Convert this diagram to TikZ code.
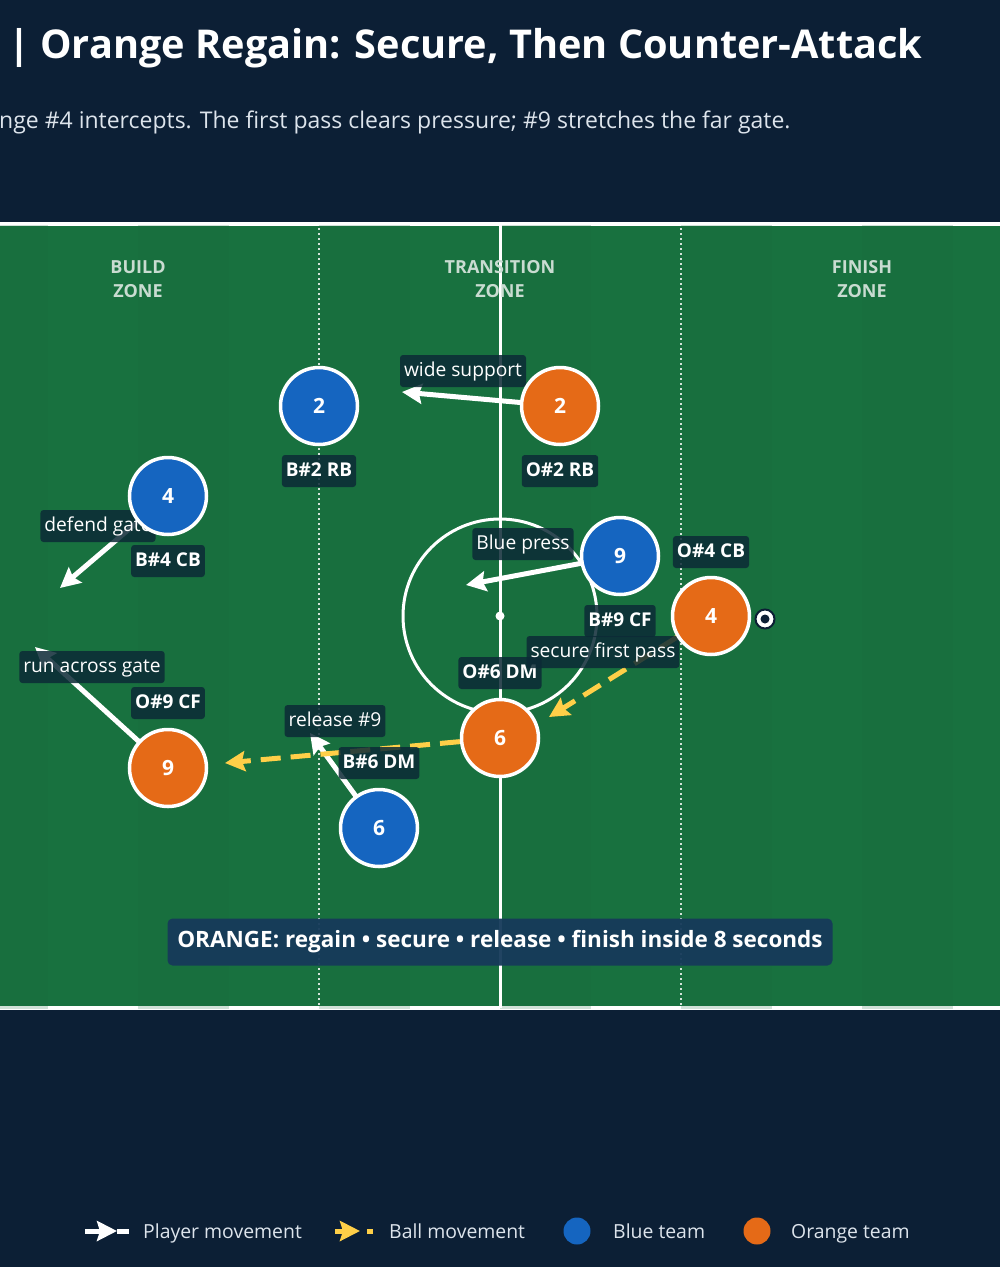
\documentclass[tikz,border=0pt]{standalone}
\usepackage{fontspec}
\setmainfont{Open Sans}
\usepackage{tikz}
\usetikzlibrary{arrows.meta}

\definecolor{night}{HTML}{0C1F35}
\definecolor{pitch}{HTML}{18713F}
\definecolor{stripe}{HTML}{1A6B3E}
\definecolor{blueteam}{HTML}{1565C0}
\definecolor{orangeteam}{HTML}{E56A17}
\definecolor{tagbg}{HTML}{0C2A36}
\definecolor{ballyellow}{HTML}{FFCF48}
\definecolor{zonegray}{HTML}{C9DCD1}
\definecolor{bannerbg}{HTML}{163A5A}
\definecolor{legendtext}{HTML}{DDE4EC}

\pgfdeclarelayer{pitch}
\pgfdeclarelayer{moves}
\pgfdeclarelayer{tags}
\pgfsetlayers{pitch,moves,tags,main}

\begin{document}
\begin{tikzpicture}[x=1pt,y=-1pt]

	\tikzstyle player=[circle, draw=white, line width=3.5pt, minimum size=77pt, inner sep=0pt, text=white, font=\fontsize{21}{24}\selectfont\bfseries];
	\tikzstyle blue player=[player, fill=blueteam];
	\tikzstyle orange player=[player, fill=orangeteam];
	\tikzstyle name tag=[fill=tagbg, fill opacity=0.85, text opacity=1, rounded corners=3pt, text=white, inner xsep=4pt, inner ysep=7pt, text height=14pt, text depth=4pt, font=\fontsize{19}{22}\selectfont\bfseries];
	\tikzstyle move tag=[name tag, font=\fontsize{19.2}{22}\selectfont];
	\tikzstyle zone tag=[align=center, text=zonegray, font=\fontsize{18}{24}\selectfont\bfseries];
	\tikzstyle player move=[draw=white, line width=5pt, -{Stealth[length=20pt, width=20pt, inset=3pt]}];
	\tikzstyle ball move=[draw=ballyellow, line width=5pt, dash pattern=on 20pt off 10pt, -{Stealth[length=20pt, width=20pt, inset=3pt]}];
	\tikzstyle legend text=[anchor=base west, inner sep=0pt, text=legendtext, font=\fontsize{19.4}{22}\selectfont];

	\useasboundingbox (0,0) rectangle (1000,1267);

	\begin{pgfonlayer}{pitch}
		\fill[night] (0,0) rectangle (1000,1267);
		\fill[pitch] (0,226) rectangle (1000,1006);
		\draw[white, line width=4pt] (0,224) -- (1000,224);
		\draw[white, line width=4pt] (0,1008) -- (1000,1008);
		\foreach \x in {-43,138,319,500,681,862}
			\fill[stripe, opacity=0.2] (\x,225) rectangle +(90.5,784);
		\foreach \x in {319,681}
			\draw[zonegray!80, line width=1.3pt, dash pattern=on 2pt off 3pt] (\x,228) -- (\x,1006);
		\draw[white, line width=3pt] (500,224) -- (500,1008);
		\draw[white, line width=3pt] (500,616) circle[radius=97];
		\fill[white] (500,616) circle[radius=4.5];
	\end{pgfonlayer}

	% headings
	\node[anchor=base west, inner sep=0pt, text=white, font=\fontsize{39.7}{44}\selectfont\bfseries] (title) at (8,58) {| Orange Regain: Secure, Then Counter-Attack};
	\node[anchor=base west, inner sep=0pt, text=legendtext, font=\fontsize{23}{26}\selectfont] (subtitle) at (-1,128) {nge \#4 intercepts. The first pass clears pressure; \#9 stretches the far gate.};

	\foreach \x/\zone in {138/BUILD,500/TRANSITION,862/FINISH}
		\node[zone tag] (zone \zone) at (\x,279) {\zone\\ZONE};

	% players
	\foreach \name/\x/\y/\num in {b2/319/406/2,b4/168/496/4,b9/620/556/9,b6/379/828/6}
		\node[blue player] (\name) at (\x,\y) {\num};
	\foreach \name/\x/\y/\num in {o2/560/406/2,o4/711/616/4,o6/500/738/6,o9/168/768/9}
		\node[orange player] (\name) at (\x,\y) {\num};

	\node[circle, fill=white, draw=night, line width=2pt, minimum size=19pt, inner sep=0pt] (ball) at (765,619) {};
	\fill[night] (ball.center) circle[radius=4.5];

	% labels
	\begin{pgfonlayer}{tags}
		\foreach \x/\y/\tag in {319/471/B\#2 RB,560/471/O\#2 RB,168/561/B\#4 CB,620/621/B\#9 CF,711/552/O\#4 CB,500/673/O\#6 DM,168/703/O\#9 CF,379/763/B\#6 DM}
			\node[name tag] at (\x,\y) {\tag};
		\foreach \x/\y/\tag in {463/371/wide support,98/526/defend gate,523/544/Blue press,92/667/run across gate,335/721/release \#9,603/652/secure first pass}
			\node[move tag] at (\x,\y) {\tag};
		\node[fill=bannerbg, fill opacity=0.95, text opacity=1, rounded corners=5pt, minimum width=665pt, minimum height=47pt, text=white, font=\fontsize{22.5}{26}\selectfont\bfseries] (banner) at (500,942) {ORANGE: regain • secure • release • finish inside 8 seconds};
	\end{pgfonlayer}

	% movement
	\begin{pgfonlayer}{moves}
		\coordinate (o2 end) at (402,392);
		\coordinate (b4 end) at (60,588);
		\coordinate (b9 end) at (466,585);
		\coordinate (o9 end) at (35,647);
		\coordinate (b6 end) at (310,733);
		\coordinate (o4 end) at (549,717);
		\coordinate (o6 end) at (225,763);
		\foreach \from in {o2,b4,b9,o9,b6}
			\draw[player move] (\from.center) -- (\from\space end);
		\draw[ball move] (o4) -- (o4 end);
		\draw[ball move] (o6) -- (o6 end);
	\end{pgfonlayer}

	% legend
	\coordinate (leg a) at (85,1231);
	\coordinate (leg b) at (117,1231);
	\coordinate (leg c) at (129,1231);
	\draw[white, line width=5pt] (leg b) -- (leg c);
	\draw[player move] (leg a) -- (leg b);
	\node[legend text] (leg player) at (143,1238) {Player movement};
	\coordinate (leg d) at (335,1231);
	\coordinate (leg e) at (360,1231);
	\coordinate (leg f) at (367,1231);
	\coordinate (leg g) at (373,1231);
	\draw[ball move] (leg d) -- (leg e);
	\draw[ballyellow, line width=5pt] (leg f) -- (leg g);
	\node[legend text] (leg ball) at (389,1238) {Ball movement};
	\node[circle, fill=blueteam, minimum size=27pt, inner sep=0pt] (leg blue) at (577,1231) {};
	\node[legend text] (leg blue text) at (613,1238) {Blue team};
	\node[circle, fill=orangeteam, minimum size=27pt, inner sep=0pt] (leg orange) at (757,1231) {};
	\node[legend text] (leg orange text) at (791,1238) {Orange team};

\end{tikzpicture}
\end{document}
